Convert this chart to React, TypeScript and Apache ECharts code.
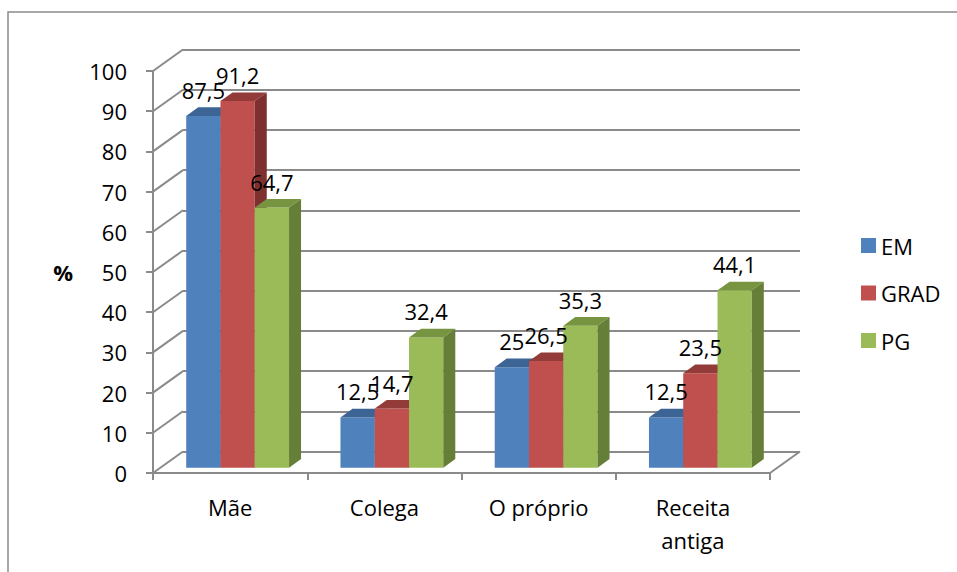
import React, { useEffect, useRef } from "react";
import * as echarts from "echarts";

const CATEGORIES = ["Mãe", "Colega", "O próprio", "Receita\nantiga"];
const SERIES_NAMES = ["EM", "GRAD", "PG"];
const EM = [87.5, 12.5, 25, 12.5];
const GRAD = [91.2, 14.7, 26.5, 23.5];
const PG = [64.7, 32.4, 35.3, 44.1];
const Y_TICKS = [0, 10, 20, 30, 40, 50, 60, 70, 80, 90, 100];

const FRONT = ["#4F81BD", "#C0504D", "#9BBB59"];
const TOP = ["#3C6494", "#923B39", "#779541"];
const SIDE = ["#35598A", "#7E302F", "#667F38"];

const DX = 30;
const DY = -21.5;
const F0 = 0.25;
const FD = 0.4;
const GRID_COLOR = "#8a8a8a";
const FONT = "'Open Sans', Lato, sans-serif";

const fmt = (v: number) => String(v).replace(".", ",");

export default function App() {
  const ref = useRef<HTMLDivElement>(null);
  useEffect(() => {
    if (!ref.current) return;
    const chart = echarts.init(ref.current, null, { renderer: "svg" });
    const allData = [EM, GRAD, PG];

    const barSeries = allData.map((vals, si) => ({
      type: "custom",
      name: SERIES_NAMES[si],
      xAxisIndex: 0,
      yAxisIndex: 0,
      z: 2,
      itemStyle: { color: FRONT[si] },
      data: vals.map((v, ci) => [ci, v]),
      encode: { x: 0, y: 1 },
      renderItem: (params: any, api: any) => {
        const ci = api.value(0);
        const v = api.value(1);
        const base = api.coord([ci, 0]);
        const top = api.coord([ci, v]);
        const band = api.size([1, 0])[0];
        const w = band / 4.5;
        const xl = base[0] - 1.5 * w + si * w + F0 * DX;
        const yb = base[1] + F0 * DY;
        const yt = top[1] + F0 * DY;
        const ddx = FD * DX;
        const ddy = FD * DY;
        return {
          type: "group",
          children: [
            {
              type: "rect",
              shape: { x: xl, y: yt, width: w, height: yb - yt },
              style: { fill: FRONT[si] },
            },
            {
              type: "polygon",
              shape: {
                points: [
                  [xl, yt],
                  [xl + w, yt],
                  [xl + w + ddx, yt + ddy],
                  [xl + ddx, yt + ddy],
                ],
              },
              style: { fill: TOP[si] },
            },
            {
              type: "polygon",
              shape: {
                points: [
                  [xl + w, yt],
                  [xl + w + ddx, yt + ddy],
                  [xl + w + ddx, yb + ddy],
                  [xl + w, yb],
                ],
              },
              style: { fill: SIDE[si] },
            },
            {
              type: "text",
              z2: 100,
              style: {
                text: fmt(v),
                x: xl + w / 2,
                y: yt - 26,
                fill: "#000",
                font: `22px ${FONT}`,
                textAlign: "center",
                textVerticalAlign: "middle",
              },
            },
          ],
        };
      },
    }));

    const diagSeries = {
      type: "custom",
      xAxisIndex: 0,
      yAxisIndex: 0,
      z: 1,
      silent: true,
      data: Y_TICKS.map((t) => [0, t]),
      encode: { x: 0, y: 1 },
      renderItem: (params: any, api: any) => {
        const v = api.value(1);
        const p = api.coord([0, v]);
        const cs = params.coordSys;
        const children: any[] = [
          {
            type: "line",
            shape: { x1: cs.x, y1: p[1], x2: cs.x + DX, y2: p[1] + DY },
            style: { stroke: GRID_COLOR, lineWidth: 2 },
          },
        ];
        if (v === 0) {
          children.push({
            type: "line",
            shape: {
              x1: cs.x + cs.width,
              y1: p[1],
              x2: cs.x + cs.width + DX,
              y2: p[1] + DY,
            },
            style: { stroke: GRID_COLOR, lineWidth: 2 },
          });
        }
        return { type: "group", children };
      },
    };

    chart.setOption({
      animation: false,
      backgroundColor: "#fff",
      textStyle: { fontFamily: FONT },
      graphic: [
        {
          type: "rect",
          shape: { x: 8, y: 12, width: 1000, height: 1000 },
          style: { fill: "none", stroke: "#8c8c8c", lineWidth: 1.5 },
          z: -10,
          silent: true,
        },
      ],
      legend: {
        data: SERIES_NAMES,
        orient: "vertical",
        left: 856,
        top: 229.5,
        itemWidth: 15,
        itemHeight: 15,
        itemGap: 25.5,
        icon: "rect",
        textStyle: { fontSize: 22, color: "#000", fontFamily: FONT },
      },
      grid: [
        { left: 153, top: 71, width: 617, height: 402 },
        { left: 183, top: 49.5, width: 617, height: 402 },
      ],
      xAxis: [
        {
          type: "category",
          gridIndex: 0,
          data: CATEGORIES,
          axisLine: { lineStyle: { color: GRID_COLOR, width: 2 } },
          axisTick: { show: true, length: 7, lineStyle: { color: GRID_COLOR, width: 2 } },
          axisLabel: {
            interval: 0,
            fontSize: 22,
            lineHeight: 33,
            margin: 17.5,
            color: "#000",
            fontFamily: FONT,
          },
        },
        { type: "category", gridIndex: 1, data: CATEGORIES, show: false },
      ],
      yAxis: [
        {
          type: "value",
          gridIndex: 0,
          min: 0,
          max: 100,
          interval: 10,
          name: "%",
          nameLocation: "middle",
          nameRotate: 0,
          nameGap: 80,
          nameTextStyle: { fontSize: 22, fontWeight: "bold", color: "#000", fontFamily: FONT },
          axisLine: { show: true, lineStyle: { color: GRID_COLOR, width: 2 } },
          axisTick: { show: true, length: 7, lineStyle: { color: GRID_COLOR, width: 2 } },
          axisLabel: { fontSize: 22, margin: 26, color: "#000", fontFamily: FONT },
          splitLine: { show: false },
        },
        {
          type: "value",
          gridIndex: 1,
          min: 0,
          max: 100,
          interval: 10,
          axisLine: { show: false },
          axisTick: { show: false },
          axisLabel: { show: false },
          splitLine: { show: true, lineStyle: { color: GRID_COLOR, width: 2 } },
        },
      ],
      series: [diagSeries, ...barSeries],
    });
    return () => chart.dispose();
  }, []);
  return (
    <div
      ref={ref}
      style={{ position: "absolute", left: 0, top: 0, width: 957, height: 572 }}
    />
  );
}
